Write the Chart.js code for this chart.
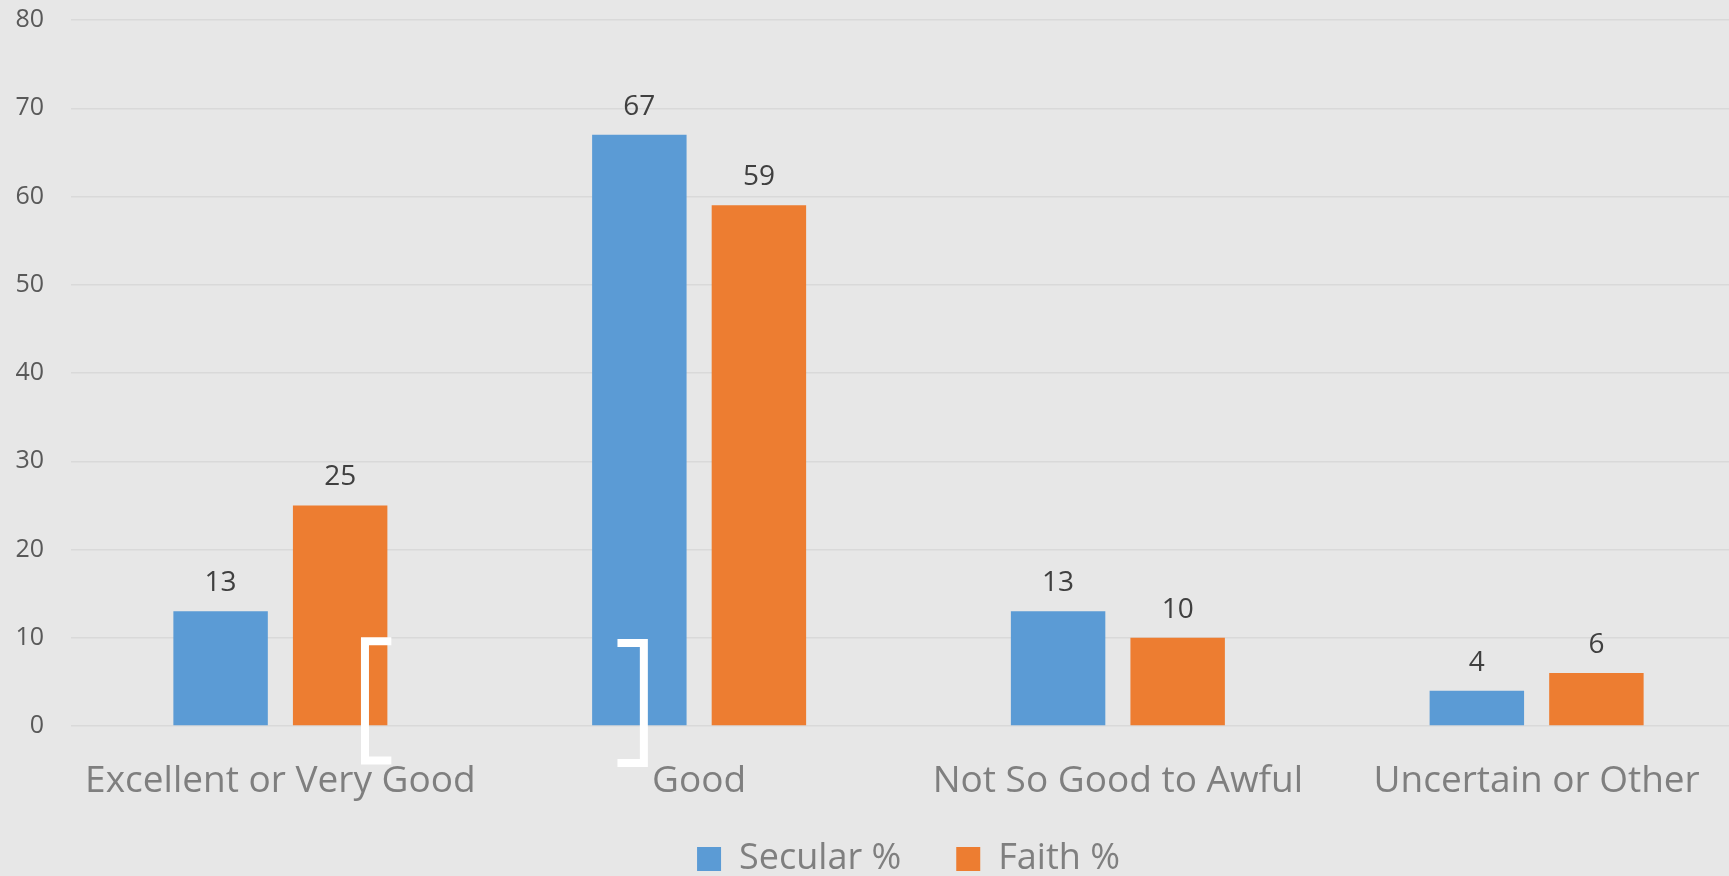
<!DOCTYPE html>
<html>
<head>
<meta charset="utf-8">
<script src="https://cdn.jsdelivr.net/npm/chart.js@4/dist/chart.umd.min.js"></script>
<style>
  html, body {
    margin: 0;
    overflow: hidden;
    background: #e7e7e7;
  }
  #wrap {
    position: absolute;
    left: 0;
    top: 0;
    width: 1746px;
    height: 887px;
  }
</style>
</head>
<body>
<div id="wrap"><canvas id="chart"></canvas></div>
<script>
const categories = ['Excellent or Very Good', 'Good', 'Not So Good to Awful', 'Uncertain or Other'];
const secular = [13, 67, 13, 4];
const faith = [25, 59, 10, 6];

// white bracket marks, x in category index units, y in axis units
const brackets = [
  { x0: 0.265, x1: 0.202, top: 9.6, bottom: -3.9 },
  { x0: 0.805, x1: 0.868, top: 9.4, bottom: -4.2 }
];

const font = 'Open Sans';

const valueLabels = {
  id: 'valueLabels',
  afterDatasetsDraw(chart) {
    const ctx = chart.ctx;
    ctx.save();
    ctx.font = `28px "${font}"`;
    ctx.fillStyle = '#404040';
    ctx.textAlign = 'center';
    ctx.textBaseline = 'alphabetic';
    chart.data.datasets.forEach((ds, i) => {
      chart.getDatasetMeta(i).data.forEach((bar, j) => {
        ctx.fillText(String(ds.data[j]), bar.x, bar.y - 20);
      });
    });
    ctx.restore();
  }
};

const bracketMarks = {
  id: 'bracketMarks',
  afterDraw(chart) {
    const { ctx, scales: { x, y } } = chart;
    ctx.save();
    ctx.strokeStyle = '#ffffff';
    ctx.lineWidth = 8;
    ctx.lineJoin = 'miter';
    brackets.forEach(b => {
      const xa = x.getPixelForValue(b.x0);
      const xb = x.getPixelForValue(b.x1);
      const yt = y.getPixelForValue(b.top);
      const yb = y.getPixelForValue(b.bottom);
      ctx.beginPath();
      ctx.moveTo(xa, yt);
      ctx.lineTo(xb, yt);
      ctx.lineTo(xb, yb);
      ctx.lineTo(xa, yb);
      ctx.stroke();
    });
    ctx.restore();
  }
};

// category labels hang down over the legend row, so widen the x axis box after layout
const tallLabels = {
  id: 'tallLabels',
  afterLayout(chart) {
    chart.scales.x.bottom = chart.height;
  }
};

new Chart(document.getElementById('chart'), {
  type: 'bar',
  data: {
    labels: categories,
    datasets: [
      { label: 'Secular %', data: secular, backgroundColor: '#5b9bd5' },
      { label: 'Faith %', data: faith, backgroundColor: '#ed7d31' }
    ]
  },
  options: {
    responsive: true,
    maintainAspectRatio: false,
    animation: false,
    categoryPercentage: 0.571,
    barPercentage: 0.79,
    layout: { padding: 0 },
    plugins: {
      tooltip: { enabled: false },
      legend: {
        position: 'bottom',
        fullSize: false,
        labels: {
          boxWidth: 24,
          boxHeight: 24,
          padding: 55,
          color: '#7f7f7f',
          font: { family: font, size: 36 }
        }
      }
    },
    scales: {
      x: {
        grid: { display: false },
        border: { display: false },
        ticks: {
          autoSkip: false,
          maxRotation: 0,
          padding: 25,
          color: '#7f7f7f',
          font: { family: font, size: 37 }
        },
        afterFit: scale => { scale.height = 60; }
      },
      y: {
        min: 0,
        max: 80,
        border: { display: false },
        grid: { color: '#d9d9d9', lineWidth: 1.5, drawTicks: false },
        ticks: {
          stepSize: 10,
          padding: 27,
          color: '#595959',
          font: { family: font, size: 25 }
        },
        afterFit: scale => {
          scale.width = 71;
          scale.paddingTop = 20;
        }
      }
    }
  },
  plugins: [valueLabels, bracketMarks, tallLabels]
});
</script>
</body>
</html>
